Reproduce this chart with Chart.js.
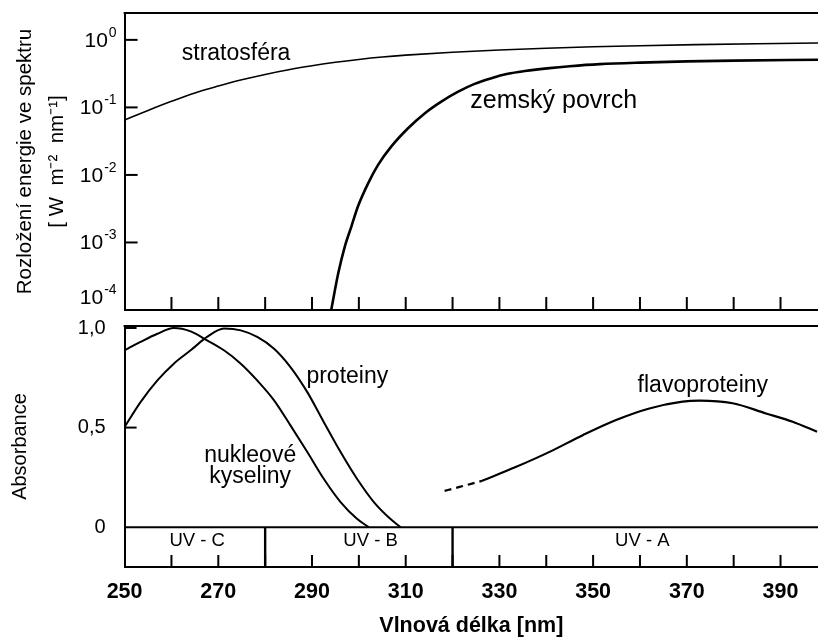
<!DOCTYPE html>
<html><head><meta charset="utf-8">
<script src="https://cdn.jsdelivr.net/npm/chart.js@4/dist/chart.umd.min.js"></script>
<style>
html,body{margin:0;padding:0;background:#fff;}
#wrap{position:relative;width:818px;height:637px;overflow:hidden;background:#fff;}
#c1{position:absolute;left:0;top:0;width:818px;height:318px;}
#c2{position:absolute;left:0;top:318px;width:818px;height:319px;}
</style></head><body>
<div id="wrap"><div id="c1"><canvas id="topChart"></canvas></div><div id="c2"><canvas id="bottomChart"></canvas></div></div>
<script>
// ---------- data ----------
// top panel: spectral energy distribution [W m^-2 nm^-1], log scale
const stratoWl  = [250, 255, 260, 265, 270, 275, 280, 285, 290, 295, 300, 305, 310, 320, 330, 340, 350, 360, 372, 385, 398];
const stratoVal = [0.0653, 0.0902, 0.123, 0.164, 0.207, 0.256, 0.308, 0.361, 0.413, 0.465, 0.513, 0.557, 0.594, 0.656, 0.708, 0.752, 0.789, 0.820, 0.849, 0.875, 0.897];
const surfWl    = [294.1, 295.6, 297.0, 298.4, 299.8, 302.0, 304.1, 306.9, 310.5, 314.1, 317.6, 321.2, 324.7, 328.3, 331.8, 335.4, 340.7, 345, 351.4, 360, 370, 380, 398];
const surfVal   = [0.0001, 0.00035, 0.00087, 0.00172, 0.0034, 0.00755, 0.0141, 0.0263, 0.0492, 0.0822, 0.122, 0.171, 0.223, 0.271, 0.314, 0.345, 0.382, 0.407, 0.437, 0.461, 0.481, 0.493, 0.507];
const topTicks  = [1e-4, 1e-3, 1e-2, 1e-1, 1];

// bottom panel: absorbance
const nucWl   = [250, 253.4, 257, 260.5, 264.1, 267.6, 271.2, 274.8, 278.3, 281.9, 285.4, 289, 292.5, 296.1, 299.6, 302.1];
const nucVal  = [0.888, 0.93, 0.971, 1.0, 0.983, 0.938, 0.888, 0.821, 0.737, 0.637, 0.511, 0.377, 0.243, 0.126, 0.042, 0];
const protWl  = [250, 253.4, 257, 260.5, 264.1, 267.6, 271.2, 274.8, 278.3, 281.9, 285.4, 289, 292.5, 296.1, 299.6, 303.2, 306.7, 308.9];
const protVal = [0.503, 0.628, 0.737, 0.821, 0.888, 0.955, 0.997, 0.988, 0.955, 0.896, 0.804, 0.678, 0.528, 0.377, 0.243, 0.126, 0.042, 0];
const flavDashWl  = [318.3, 326.1];
const flavDashVal = [0.182, 0.231];
const flavWl  = [326.1, 333.6, 340.7, 347.8, 354.9, 362, 369.1, 372.7, 379.8, 386.9, 392.6, 397.8];
const flavVal = [0.231, 0.303, 0.378, 0.462, 0.538, 0.596, 0.63, 0.635, 0.622, 0.571, 0.529, 0.479];
const absTicks = [0, 0.5, 1.0];

// UV bands
const bandBounds = [280, 320];
const bandNames  = ['UV - C', 'UV - B', 'UV - A'];
const bandLabelWl = [265.5, 302.5, 360.5];

// x axis
const xMin = 250, xMax = 398, xStep = 10, xLabelStep = 20;

// curve labels (data coordinates)
const topNotes = [
  {text: 'stratosféra', x: 262.2, y: 0.63, size: 23, align: 'left'},
  {text: 'zemský povrch', x: 323.8, y: 0.125, size: 25, align: 'left'}
];
const bottomNotes = [
  {text: 'proteiny', x: 288.8, y: 0.756, size: 23, align: 'left'},
  {text: 'nukleové', x: 276.8, y: 0.357, size: 23, align: 'center'},
  {text: 'kyseliny', x: 276.8, y: 0.256, size: 23, align: 'center'},
  {text: 'flavoproteiny', x: 359.5, y: 0.71, size: 23, align: 'left'}
];

// ---------- chart setup ----------
const FONT = "'Liberation Sans', Arial, Helvetica, sans-serif";
Chart.defaults.font.family = FONT;
Chart.defaults.color = '#000';
const pts = (xs, ys) => xs.map((x, i) => ({x, y: ys[i]}));
const line = (label, xs, ys, w, extra) => Object.assign({
  label, data: pts(xs, ys), showLine: true, borderColor: '#000', backgroundColor: '#000',
  borderWidth: w, pointRadius: 0, cubicInterpolationMode: 'monotone', fill: false
}, extra || {});

function seg(ctx, x1, y1, x2, y2) { ctx.beginPath(); ctx.moveTo(x1, y1); ctx.lineTo(x2, y2); ctx.stroke(); }

const frame = {
  id: 'frame',
  afterDraw(chart, args, o) {
    const {ctx, chartArea: a, scales} = chart;
    ctx.save();
    ctx.strokeStyle = '#000'; ctx.lineWidth = 2; ctx.lineCap = 'butt';
    seg(ctx, a.left - 1, a.top, a.right, a.top);
    const xs = scales.x;
    xs.ticks.forEach(t => {
      if (t.value <= xMin) return;
      const px = xs.getPixelForValue(t.value);
      seg(ctx, px, a.bottom, px, a.bottom - o.len);
    });
    const ys = scales.y;
    o.yInward.forEach(v => {
      const py = ys.getPixelForValue(v);
      seg(ctx, a.left, py, a.left + o.len, py);
    });
    ctx.restore();
  }
};

const notes = {
  id: 'notes',
  afterDatasetsDraw(chart, args, o) {
    const {ctx, scales: {x, y}} = chart;
    ctx.save(); ctx.fillStyle = '#000'; ctx.textBaseline = 'middle';
    o.items.forEach(n => {
      ctx.font = `${n.weight || 'normal'} ${n.size}px ${FONT}`;
      ctx.textAlign = n.align;
      ctx.fillText(n.text, x.getPixelForValue(n.x), y.getPixelForValue(n.y));
    });
    ctx.restore();
  }
};

const expLabels = {
  id: 'expLabels',
  afterDraw(chart) {
    const {ctx, chartArea: a, scales: {y}} = chart;
    ctx.save(); ctx.fillStyle = '#000'; ctx.textBaseline = 'middle'; ctx.textAlign = 'left';
    topTicks.forEach(v => {
      const py = Math.min(y.getPixelForValue(v) + 1, a.bottom - 12);
      const exp = String(Math.round(Math.log10(v)));
      ctx.font = `21px ${FONT}`; const wb = ctx.measureText('10').width;
      ctx.font = `14px ${FONT}`; const we = ctx.measureText(exp).width;
      const right = a.left - 8;
      ctx.font = `21px ${FONT}`; ctx.fillText('10', right - we - wb - 1, py);
      ctx.font = `14px ${FONT}`; ctx.fillText(exp, right - we, py - 8);
    });
    ctx.restore();
  }
};

const axisBorder = {display: true, color: '#000', width: 2};
function fixX(h) { return s => { s.height = h; s.paddingLeft = 0; s.paddingRight = 0; s.paddingTop = 0; s.paddingBottom = 0; }; }
function fixY(w) { return s => { s.width = w; s.paddingTop = 0; s.paddingBottom = 0; s.paddingLeft = 0; s.paddingRight = 0; }; }

new Chart(document.getElementById('topChart'), {
  type: 'scatter',
  data: {datasets: [
    line('stratosféra', stratoWl, stratoVal, 1.6),
    line('zemský povrch', surfWl, surfVal, 2.6)
  ]},
  options: {
    responsive: true, maintainAspectRatio: false, animation: false,
    layout: {padding: {top: 13, left: 0, right: 0, bottom: 0}},
    plugins: {
      legend: {display: false}, tooltip: {enabled: false},
      frame: {len: 13, yInward: topTicks.slice(1)},
      notes: {items: topNotes}
    },
    scales: {
      x: {type: 'linear', min: xMin, max: xMax,
          ticks: {display: false, stepSize: xStep, includeBounds: false},
          grid: {display: false, drawTicks: false}, border: axisBorder,
          afterFit: fixX(8)},
      y: {type: 'logarithmic', min: 1e-4, max: 2.5,
          afterBuildTicks(s) { s.ticks = topTicks.map(v => ({value: v})); },
          ticks: {display: false},
          grid: {display: false, drawTicks: false}, border: axisBorder,
          title: {display: true, text: ['Rozložení energie ve spektru', '[ W  m⁻²  nm⁻¹]'],
                  font: {size: 20.5, lineHeight: 1.6}, padding: {top: 8.5, bottom: 0}, color: '#000'},
          afterFit: fixY(124.6)}
    }
  },
  plugins: [frame, expLabels, notes]
});

const bandNotes = bandNames.map((t, i) => ({text: t, x: bandLabelWl[i], y: -0.068, size: 18.5, align: 'center'}));
const strip = [line('baseline', [xMin, xMax], [0, 0], 2, {cubicInterpolationMode: 'default', tension: 0})]
  .concat(bandBounds.map(b => line('bound', [b, b], [-0.2, 0], 2.4, {cubicInterpolationMode: 'default', tension: 0})));

new Chart(document.getElementById('bottomChart'), {
  type: 'scatter',
  data: {datasets: [
    line('nukleové kyseliny', nucWl, nucVal, 2),
    line('proteiny', protWl, protVal, 2),
    line('flavoproteiny', flavWl, flavVal, 2.2),
    line('flavoproteiny (extrapolace)', flavDashWl, flavDashVal, 2.2, {borderDash: [7, 5]})
  ].concat(strip)},
  options: {
    responsive: true, maintainAspectRatio: false, animation: false,
    layout: {padding: {top: 8, left: 0, right: 0, bottom: 0}},
    plugins: {
      legend: {display: false}, tooltip: {enabled: false},
      frame: {len: 12, yInward: [0.5, 1.0]},
      notes: {items: bottomNotes.concat(bandNotes)}
    },
    scales: {
      x: {type: 'linear', min: xMin, max: xMax,
          ticks: {stepSize: xStep, includeBounds: false, autoSkip: false, maxRotation: 0,
                  padding: 12, font: {size: 21.5, weight: 'bold'},
                  callback: v => ((v - xMin) % xLabelStep === 0 ? String(v) : '')},
          grid: {display: false, drawTicks: false}, border: axisBorder,
          title: {display: true, text: 'Vlnová délka [nm]', font: {size: 21.5, weight: 'bold', lineHeight: 1}, padding: {top: 0, bottom: 0}, color: '#000'},
          afterFit: fixX(70)},
      y: {type: 'linear', min: -0.2, max: 1.01,
          afterBuildTicks(s) { s.ticks = absTicks.map(v => ({value: v})); },
          ticks: {padding: 19, font: {size: 20, lineHeight: 1},
                  callback: v => (v === 0 ? '0' : v.toFixed(1).replace('.', ','))},
          grid: {display: false, drawTicks: false}, border: axisBorder,
          title: {display: true, text: 'Absorbance', font: {size: 20, lineHeight: 1.2}, padding: {top: 8, bottom: 0}, color: '#000'},
          afterFit: fixY(124.6)}
    }
  },
  plugins: [frame, notes]
});
</script>
</body></html>
